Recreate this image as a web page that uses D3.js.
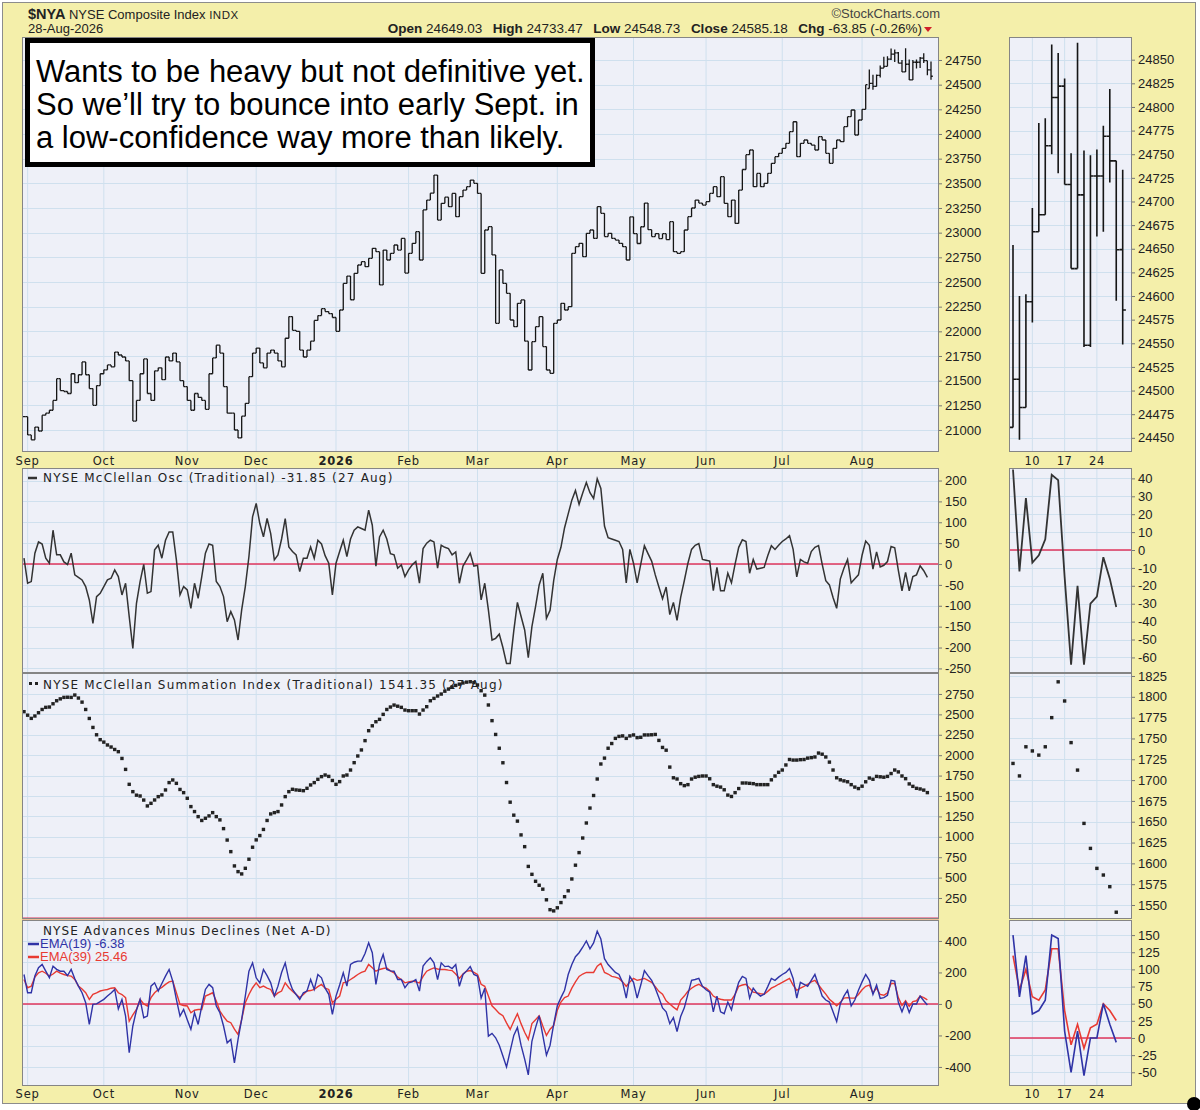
<!DOCTYPE html>
<html>
<head>
<meta charset="utf-8">
<script src="https://cdn.jsdelivr.net/npm/d3@7"></script>
<style>
  body { margin: 0; background: #fff; }
  text { font-family: "Liberation Sans", Arial, sans-serif; fill: #222; }
  .vd { font-family: "DejaVu Sans", Verdana, sans-serif; }
</style>
</head>
<body>
<div id="chart"></div>
<script>
// ---------------- data ----------------
// trading days, index 0 = 29-Aug-2025 ... index 250 = 28-Aug-2026
var monthTicks = [["Sep",1],["Oct",22],["Nov",45],["Dec",64],["2026",86],["Feb",106],
                  ["Mar",125],["Apr",147],["May",168],["Jun",188],["Jul",209],["Aug",231]];

var closes = [21135,20950,20900,21030,20990,21150,21170,21200,21300,21520,
  21400,21390,21370,21570,21480,21560,21690,21560,21420,21250,
  21450,21570,21610,21660,21640,21790,21760,21740,21700,21500,
  21090,21300,21570,21720,21370,21300,21600,21630,21510,21740,
  21700,21780,21690,21500,21440,21300,21200,21370,21330,21300,
  21210,21570,21730,21860,21780,21440,21170,21170,21000,20920,
  21140,21270,21540,21780,21830,21680,21630,21780,21810,21780,
  21700,21640,21930,22150,22010,22000,21810,21740,21810,21900,
  22110,22160,22230,22200,22180,22140,22000,22216,22486,22560,
  22320,22588,22672,22706,22655,22740,22841,22807,22470,22824,
  22723,22791,22875,22824,22942,22590,22791,22892,23010,22723,
  23230,23330,23400,23584,23128,23297,23360,23263,23398,23162,
  23365,23432,23466,23533,23500,23398,22588,23027,23061,22774,
  22081,22622,22486,22385,22115,22047,22284,22318,21900,21608,
  21895,22047,22149,21845,21608,21574,22081,22115,22284,22216,
  22250,22791,22858,22892,22757,22993,23027,22942,23263,23196,
  22960,22993,22942,22925,22892,22858,22723,23160,22990,22890,
  23060,23300,23030,22960,22990,22940,22990,22930,23111,22807,
  22791,22807,23027,23162,23250,23330,23300,23280,23314,23398,
  23466,23365,23567,23297,23162,23330,23094,23432,23640,23790,
  23838,23466,23600,23466,23500,23601,23703,23770,23804,23855,
  23905,24023,24124,23770,23905,23939,23905,23888,23838,23973,
  23939,23804,23703,23855,23939,23922,24074,24175,24243,23990,
  24142,24250,24500,24512,24482,24594,24668,24686,24759,24810,
  24822,24718,24629,24707,24548,24727,24727,24769,24743,24649,
  24585.18];

// full OHLC for the zoomed panel, 5-Aug .. 28-Aug (index 233..250)
var augStart = 233;
var augLabels = [["10",3],["17",8],["24",13]];
var augOpen = [24461,24512,24482,24594,24668,24686,24759,24810,24822,24718,24629,24707,24548,24727,24727,24769,24743,24649.03];
var augHigh = [24654,24600,24602,24693,24783,24788,24866,24857,24830,24751,24868,24754,24749,24755,24780,24819,24743,24733.47];
var augLow  = [24461,24448,24482,24572,24668,24686,24750,24730,24718,24629,24629,24546,24546,24663,24668,24720,24595,24548.73];

// McClellan Oscillator, index 0..249 (27 Aug)
var osc = [14,-46,-42,26,53,48,14,2,81,22,
  22,5,-1,26,-26,-32,-38,-54,-86,-142,
  -78,-70,-54,-38,-34,-14,-30,-74,-46,-126,
  -202,-94,-42,-1,-70,-66,34,45,14,57,
  77,77,10,-74,-54,-62,-106,-46,-82,-30,
  26,48,45,-42,-54,-78,-138,-114,-134,-182,
  -110,-54,18,113,145,97,65,109,73,10,
  22,60,109,41,30,22,-18,14,14,41,
  14,57,48,20,2,-74,2,30,57,18,
  60,81,89,85,81,129,93,-5,65,81,
  60,25,22,-10,-2,-30,-14,-2,6,-46,
  37,50,57,53,-10,45,40,37,22,29,
  -46,-5,10,26,-5,-3,-86,-46,-110,-182,
  -178,-168,-200,-238,-238,-160,-92,-125,-158,-224,
  -150,-102,-50,-22,-130,-111,-40,11,40,87,
  120,153,176,143,170,195,171,157,204,181,
  91,63,60,57,54,35,-45,35,2,-45,
  0,44,25,7,-26,-55,-83,-55,-121,-92,
  -135,-80,-40,2,35,45,49,11,9,7,
  -64,-8,-64,-64,-22,-45,0,40,58,54,
  -22,11,-12,-10,-8,20,44,35,45,54,
  60,68,35,-31,11,5,2,30,40,44,
  0,-40,-50,-80,-106,-36,-10,11,-45,-35,
  -26,21,55,45,-12,29,-7,-3,6,42,
  39,-15,-64,-20,-64,-30,-26,-4,-16,-31.85];

// McClellan Summation Index, index 0..249
var summation = [2533,2490,2451,2480,2520,2560,2586,2590,2630,2667,
  2690,2708,2710,2708,2737,2700,2650,2560,2450,2340,
  2250,2190,2160,2125,2100,2070,2043,1960,1826,1643,
  1553,1510,1500,1450,1378,1410,1451,1492,1513,1574,
  1664,1696,1655,1580,1541,1472,1370,1309,1247,1200,
  1227,1256,1296,1247,1207,1100,960,818,643,573,
  545,614,725,872,962,1015,1090,1200,1280,1296,
  1309,1390,1492,1553,1582,1574,1570,1565,1594,1635,
  1664,1704,1737,1757,1740,1690,1643,1676,1745,1757,
  1818,1908,1990,2064,2178,2300,2360,2410,2439,2500,
  2560,2590,2614,2600,2586,2553,2545,2545,2545,2504,
  2553,2594,2667,2696,2725,2749,2784,2810,2835,2855,
  2870,2885,2895,2900,2890,2860,2790,2736,2615,2423,
  2254,2085,1907,1665,1424,1265,1192,1023,879,637,
  540,455,406,358,228,107,92,130,194,266,
  338,483,652,806,985,1169,1352,1506,1708,1892,
  1964,2085,2143,2206,2230,2236,2206,2236,2248,2215,
  2219,2248,2248,2250,2254,2181,2095,2061,1854,1723,
  1708,1651,1627,1639,1708,1730,1740,1745,1745,1711,
  1639,1620,1609,1576,1511,1494,1541,1591,1659,1659,
  1655,1651,1639,1639,1639,1639,1698,1745,1790,1818,
  1880,1947,1940,1940,1945,1947,1964,1970,1978,2026,
  2012,1978,1915,1818,1723,1698,1685,1674,1639,1609,
  1591,1620,1674,1720,1705,1740,1735,1730,1740,1775,
  1818,1795,1745,1712,1648,1618,1594,1586,1572,1541.35];

// Net A-D, EMA(19) and EMA(39), index 0..249
var ema19 = [187,71,71,177,230,251,208,166,240,220,
  208,208,180,219,160,113,71,8,-130,-3,
  0,15,29,50,70,92,-32,29,-77,-310,
  -140,-40,29,-87,-77,113,134,82,130,177,
  219,145,29,-77,-35,-100,-161,-56,-130,-13,
  92,124,103,-13,-56,-140,-247,-225,-374,-225,
  -98,50,208,261,166,134,219,180,134,50,
  113,200,261,155,92,60,29,71,82,155,
  92,187,166,100,61,-66,50,120,198,113,
  251,265,272,272,320,388,325,124,251,314,
  219,210,208,155,155,103,134,140,155,82,
  240,270,293,261,155,261,237,240,225,250,
  112,187,210,237,187,177,37,100,-204,-187,
  -215,-262,-330,-400,-300,-200,-150,-262,-350,-450,
  -237,-150,-75,-200,-325,-262,-130,-12,40,87,
  187,250,300,325,360,400,350,387,462,412,
  287,250,225,200,187,137,37,175,137,37,
  120,212,180,150,100,40,-25,-50,-125,-87,
  -175,-80,-25,62,150,155,162,112,90,75,
  -50,50,-50,-62,12,-37,60,137,175,162,
  37,100,70,50,62,110,162,150,170,187,
  200,225,162,37,137,125,112,150,187,120,
  50,25,12,-50,-112,0,50,87,-12,25,
  87,140,187,150,60,120,35,40,55,150,
  145,10,-50,10,-55,0,0,50,20,-6.38];

var ema39 = [155,103,113,170,198,208,195,177,190,208,
  195,187,180,177,155,113,95,71,29,61,
  70,82,88,92,100,103,71,60,40,-109,
  -70,-35,29,0,-13,40,71,92,105,124,
  140,145,71,-3,-10,-13,-56,-40,-35,-35,
  50,60,71,19,-45,-80,-109,-119,-160,-194,
  -98,8,60,103,134,103,113,100,92,50,
  70,82,134,103,80,61,40,60,82,85,
  92,110,124,100,92,8,30,50,134,140,
  155,170,187,200,208,251,230,208,219,225,
  229,210,198,170,155,134,140,145,140,134,
  175,208,220,229,222,219,219,215,212,190,
  162,190,208,212,200,187,125,112,50,-12,
  -35,-60,-75,-120,-162,-110,-62,-125,-180,-225,
  -125,-100,-75,-140,-200,-160,-137,-40,12,40,
  50,100,140,175,190,200,200,200,240,257,
  200,190,175,170,162,140,112,140,162,150,
  155,162,150,137,110,80,62,20,0,-20,
  -37,25,50,80,100,115,125,110,100,80,
  50,37,30,25,25,25,60,112,120,125,
  100,75,70,65,62,80,100,112,125,137,
  150,162,120,87,100,112,125,140,150,120,
  90,62,30,10,-12,10,37,40,37,37,
  60,90,112,120,70,100,60,55,70,130,
  130,40,-10,20,-15,15,20,50,40,25.46];

var priceTicks = d3.range(21000, 24751, 250);
var priceTicksS = d3.range(24450, 24851, 25);
var oscTicks = d3.range(-250, 201, 50);
var oscTicksS = d3.range(-60, 41, 10);
var sumTicks = d3.range(250, 2751, 250);
var sumTicksS = d3.range(1550, 1826, 25);
var adTicks = [-400, -200, 0, 200, 400];
var adGrid = [-400, -266.67, -133.33, 0, 133.33, 266.67, 400];
var adTicksS = d3.range(-50, 151, 25);

var noteLines = ["Wants to be heavy but not definitive yet.",
                 "So we\u2019ll try to bounce into early Sept. in",
                 "a low-confidence way more than likely."];

// ---------------- layout ----------------
var svg = d3.select("#chart").append("svg")
    .attr("width", 1200).attr("height", 1110);

var mainL = 22, mainR = 939, smallL = 1009, smallR = 1132;

var x = d3.scaleLinear().domain([0, 250]).range([24, 931]);
var xs = d3.scaleLinear().domain([0, 17]).range([1013, 1122.7]);

var panels = [
  {key: "price", top: 37,  bottom: 452,
   y: d3.scaleLinear().domain([20777, 24983]).range([452, 37]),
   ys: d3.scaleLinear().domain([24435, 24874]).range([452, 37]),
   ticks: priceTicks, grid: priceTicks, ticksS: priceTicksS, zero: false},
  {key: "osc", top: 468, bottom: 673,
   y: d3.scaleLinear().domain([-261, 230]).range([673, 468]),
   ys: d3.scaleLinear().domain([-68.7, 45.8]).range([673, 468]),
   ticks: oscTicks, grid: oscTicks, ticksS: oscTicksS, zero: true},
  {key: "sum", top: 673, bottom: 919,
   y: d3.scaleLinear().domain([0, 3007]).range([918.4, 673]),
   ys: d3.scaleLinear().domain([1534.4, 1828.6]).range([918, 673]),
   ticks: sumTicks, grid: sumTicks, ticksS: sumTicksS, zero: true},
  {key: "ad", top: 920, bottom: 1086,
   y: d3.scaleLinear().domain([-521, 533]).range([1086, 920]),
   ys: d3.scaleLinear().domain([-70, 172]).range([1086, 920]),
   ticks: adTicks, grid: adGrid, ticksS: adTicksS, zero: true}
];
var P = {};
panels.forEach(function(p) { P[p.key] = p; });

// outer frame
svg.append("rect").attr("x", 2.5).attr("y", 2.5).attr("width", 1193).attr("height", 1101)
    .attr("fill", "#f4efaa").attr("stroke", "#8c8c8c");

var bgLayer = svg.append("g"), dataLayer = svg.append("g"), frameLayer = svg.append("g");

var defs = svg.append("defs");

panels.forEach(function(p) {
  [["m", mainL, mainR, p.y, p.ticks, p.grid], ["s", smallL, smallR, p.ys, p.ticksS, p.ticksS]].forEach(function(s) {
    var x0 = s[1], x1 = s[2], ys = s[3];
    defs.append("clipPath").attr("id", "clip-" + p.key + s[0])
      .append("rect").attr("x", x0).attr("y", p.top).attr("width", x1 - x0).attr("height", p.bottom - p.top);

    bgLayer.append("rect").attr("x", x0).attr("y", p.top)
        .attr("width", x1 - x0).attr("height", p.bottom - p.top).attr("fill", "#eef0f8");

    bgLayer.selectAll(null).data(s[5]).enter().append("line")
        .attr("x1", x0).attr("x2", x1)
        .attr("y1", function(d) { return Math.round(ys(d)) + 0.5; })
        .attr("y2", function(d) { return Math.round(ys(d)) + 0.5; })
        .attr("stroke", "#cfe0ee").attr("stroke-width", 1);

    var vx = s[0] === "m" ? monthTicks.map(function(m) { return x(m[1]); })
                          : augLabels.map(function(m) { return xs(m[1]); });
    bgLayer.selectAll(null).data(vx).enter().append("line")
        .attr("x1", function(d) { return d; }).attr("x2", function(d) { return d; })
        .attr("y1", p.top).attr("y2", p.bottom)
        .attr("stroke", "#cfe0ee").attr("stroke-width", 1);

    if (p.zero && ys.domain()[0] <= 0 && ys.domain()[1] >= 0) {
      bgLayer.append("line").attr("x1", x0).attr("x2", x1)
          .attr("y1", ys(0)).attr("y2", ys(0))
          .attr("stroke", "#e0365c").attr("stroke-width", 1.6);
    }

    frameLayer.append("rect").attr("x", x0 + 0.5).attr("y", p.top + 0.5)
        .attr("width", x1 - x0 - 1).attr("height", p.bottom - p.top - 1)
        .attr("fill", "none").attr("stroke", "#858585");

    var ax = frameLayer.append("g").attr("transform", "translate(" + x1 + ",0)")
        .call(d3.axisRight(ys).tickValues(s[4]).tickSize(3).tickPadding(3)
              .tickFormat(function(d) { return d; }));
    ax.select(".domain").remove();
    ax.selectAll("line").attr("stroke", "#777");
    ax.selectAll("text").attr("font-size", 13)
        .attr("font-family", "Liberation Sans, Arial, sans-serif").attr("fill", "#222");
  });
});

// ---------------- price bars ----------------
var bars = closes.map(function(c, i) {
  if (i >= augStart) {
    var k = i - augStart;
    return {i: i, o: augOpen[k], h: augHigh[k], l: augLow[k], c: c};
  }
  var o = i > 0 ? closes[i - 1] : c;
  return {i: i, o: o, h: Math.max(o, c), l: Math.min(o, c), c: c};
});

function barPath(xf, yf, w) {
  return function(d) {
    var xx = xf(d.i);
    return "M" + xx + "," + yf(d.l) + "V" + yf(d.h) +
           "M" + (xx - w) + "," + yf(d.o) + "H" + xx +
           "M" + xx + "," + yf(d.c) + "H" + (xx + w);
  };
}

dataLayer.append("g").attr("clip-path", "url(#clip-pricem)")
  .selectAll("path").data(bars).enter().append("path")
  .attr("d", barPath(x, P.price.y, 1.8))
  .attr("fill", "none").attr("stroke", "#151515").attr("stroke-width", 1.3);

var barsS = bars.filter(function(d) { return d.i >= augStart; });
dataLayer.append("g").attr("clip-path", "url(#clip-prices)")
  .selectAll("path").data(barsS).enter().append("path")
  .attr("d", barPath(function(i) { return xs(i - augStart); }, P.price.ys, 3.2))
  .attr("fill", "none").attr("stroke", "#151515").attr("stroke-width", 1.6);

// ---------------- oscillator ----------------
var oscLine = d3.line().x(function(d, i) { return x(i); }).y(function(d) { return P.osc.y(d); });
dataLayer.append("path").datum(osc).attr("clip-path", "url(#clip-oscm)")
    .attr("d", oscLine).attr("fill", "none").attr("stroke", "#333").attr("stroke-width", 1.5);

var oscS = osc.slice(augStart);
dataLayer.append("path").datum(oscS).attr("clip-path", "url(#clip-oscs)")
    .attr("d", d3.line().x(function(d, k) { return xs(k); }).y(function(d) { return P.osc.ys(d); }))
    .attr("fill", "none").attr("stroke", "#333").attr("stroke-width", 1.8);

// ---------------- summation dots ----------------
dataLayer.append("g").attr("clip-path", "url(#clip-summ)")
  .selectAll("rect").data(summation).enter().append("rect")
  .attr("x", function(d, i) { return x(i) - 1.7; })
  .attr("y", function(d) { return P.sum.y(d) - 1.7; })
  .attr("width", 3.4).attr("height", 3.4).attr("fill", "#222");

dataLayer.append("g").attr("clip-path", "url(#clip-sums)")
  .selectAll("rect").data(summation.slice(augStart)).enter().append("rect")
  .attr("x", function(d, k) { return xs(k) - 1.7; })
  .attr("y", function(d) { return P.sum.ys(d) - 1.7; })
  .attr("width", 3.4).attr("height", 3.4).attr("fill", "#222");

// ---------------- net A-D EMAs ----------------
[[ema39, "#e83a32"], [ema19, "#2f33a6"]].forEach(function(s) {
  dataLayer.append("path").datum(s[0]).attr("clip-path", "url(#clip-adm)")
      .attr("d", d3.line().x(function(d, i) { return x(i); }).y(function(d) { return P.ad.y(d); }))
      .attr("fill", "none").attr("stroke", s[1]).attr("stroke-width", 1.4);
  dataLayer.append("path").datum(s[0].slice(augStart)).attr("clip-path", "url(#clip-ads)")
      .attr("d", d3.line().x(function(d, k) { return xs(k); }).y(function(d) { return P.ad.ys(d); }))
      .attr("fill", "none").attr("stroke", s[1]).attr("stroke-width", 1.6);
});

// ---------------- date labels ----------------
[465, 1098].forEach(function(yy) {
  frameLayer.selectAll(null).data(monthTicks).enter().append("text")
      .attr("class", "vd").attr("x", function(d) { return x(d[1]); }).attr("y", yy)
      .attr("text-anchor", "middle").attr("font-size", 11.5).attr("letter-spacing", 0.8)
      .attr("font-weight", function(d) { return d[0] === "2026" ? "bold" : "normal"; })
      .text(function(d) { return d[0]; });
  frameLayer.selectAll(null).data(augLabels).enter().append("text")
      .attr("class", "vd").attr("x", function(d) { return xs(d[1]); }).attr("y", yy)
      .attr("text-anchor", "middle").attr("font-size", 11.5).attr("letter-spacing", 0.5)
      .text(function(d) { return d[0]; });
});

// ---------------- panel legends ----------------
frameLayer.append("line").attr("x1", 28).attr("x2", 37).attr("y1", 478).attr("y2", 478)
    .attr("stroke", "#333").attr("stroke-width", 2.5);
frameLayer.append("text").attr("class", "vd").attr("x", 43).attr("y", 482)
    .attr("font-size", 12).attr("letter-spacing", 1.2)
    .text("NYSE McClellan Osc (Traditional) -31.85 (27 Aug)");

frameLayer.selectAll(null).data([29, 35]).enter().append("rect")
    .attr("x", function(d) { return d; }).attr("y", 682).attr("width", 3).attr("height", 3).attr("fill", "#222");
frameLayer.append("text").attr("class", "vd").attr("x", 43).attr("y", 689)
    .attr("font-size", 12).attr("letter-spacing", 1.2)
    .text("NYSE McClellan Summation Index (Traditional) 1541.35 (27 Aug)");

frameLayer.append("text").attr("class", "vd").attr("x", 43).attr("y", 935)
    .attr("font-size", 12).attr("letter-spacing", 1.1)
    .text("NYSE Advances Minus Declines (Net A-D)");
[["EMA(19) -6.38", "#2f33a6", 948], ["EMA(39) 25.46", "#e83a32", 961]].forEach(function(s) {
  frameLayer.append("line").attr("x1", 28).attr("x2", 39).attr("y1", s[2] - 4).attr("y2", s[2] - 4)
      .attr("stroke", s[1]).attr("stroke-width", 2.5);
  frameLayer.append("text").attr("x", 40).attr("y", s[2]).attr("font-size", 13)
      .style("fill", s[1]).text(s[0]);
});

// ---------------- header ----------------
var h1 = svg.append("text").attr("x", 28).attr("y", 19);
h1.append("tspan").attr("font-weight", "bold").attr("font-size", 14.5).text("$NYA");
h1.append("tspan").attr("font-size", 13).text(" NYSE Composite Index ");
h1.append("tspan").attr("font-size", 11.5).attr("letter-spacing", 0.5).text("INDX");
svg.append("text").attr("x", 28).attr("y", 33).attr("font-size", 13).text("28-Aug-2026");

svg.append("text").attr("x", 940).attr("y", 18).attr("text-anchor", "end")
    .attr("font-size", 13).style("fill", "#444").text("\u00a9StockCharts.com");

var ohlc = [["Open", "24649.03"], ["High", "24733.47"], ["Low", "24548.73"],
            ["Close", "24585.18"], ["Chg", "-63.85 (-0.26%)"]];
var h2 = svg.append("text").attr("x", 922).attr("y", 33).attr("text-anchor", "end").attr("font-size", 13.5);
ohlc.forEach(function(o, i) {
  h2.append("tspan").attr("font-weight", "bold").attr("dx", i ? 10.5 : 0).text(o[0]);
  h2.append("tspan").text(" " + o[1]);
});
svg.append("path").attr("d", "M924,27 L932,27 L928,32 Z").attr("fill", "#d0202a");

// ---------------- note box ----------------
svg.append("rect").attr("x", 27.5).attr("y", 40.5).attr("width", 565).attr("height", 124)
    .attr("fill", "#fff").attr("stroke", "#000").attr("stroke-width", 5);
svg.selectAll(null).data(noteLines).enter().append("text")
    .attr("x", 36).attr("y", function(d, i) { return 82 + i * 33; })
    .attr("font-size", 31).style("fill", "#000")
    .text(function(d) { return d; });

// stray cursor dot at the lower right corner
svg.append("circle").attr("cx", 1194).attr("cy", 1104).attr("r", 7).attr("fill", "#000");
</script>
</body>
</html>
